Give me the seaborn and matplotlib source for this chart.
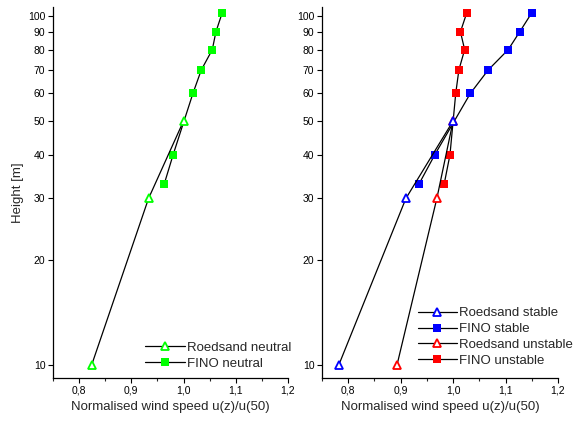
import matplotlib
matplotlib.use("Agg")
import matplotlib.pyplot as plt
import seaborn as sns
import numpy as np
from matplotlib.ticker import FixedLocator, NullLocator

sns.set_style("ticks")
plt.rcParams['font.family'] = ['Liberation Sans', 'DejaVu Sans']

# Data
h_roed = [10, 30, 50]
h_fino = [33, 40, 60, 70, 80, 90, 102]

roed_neutral = [0.824, 0.933, 1.000]
fino_neutral = [0.963, 0.980, 1.018, 1.034, 1.055, 1.062, 1.074]

roed_stable = [0.782, 0.910, 1.000]
fino_stable = [0.935, 0.965, 1.033, 1.067, 1.105, 1.127, 1.150]
roed_unstable = [0.893, 0.969, 1.000]
fino_unstable = [0.983, 0.994, 1.005, 1.011, 1.022, 1.014, 1.026]

y_ticks = [10, 20, 30, 40, 50, 60, 70, 80, 90, 100]
x_ticks = [0.8, 0.9, 1.0, 1.1, 1.2]
x_ticklabels = ['0,8', '0,9', '1,0', '1,1', '1,2']

GREEN = '#00ff00'
BLUE = '#0000ff'
RED = '#ff0000'

W, H = 581, 421
fig = plt.figure(figsize=(W/100, H/100), dpi=100)
ax1 = fig.add_axes([53/W, 1-378/H, 235/W, 371/H])
ax2 = fig.add_axes([322/W, 1-378/H, 236/W, 371/H])


def draw(ax, xs, ys, marker, col, label, z):
    filled = marker == 's'
    sns.lineplot(x=xs, y=ys, ax=ax, sort=False, estimator=None, color='black',
                 lw=0.9, marker=marker,
                 markersize=5.2 if filled else 6.0,
                 markerfacecolor=col if filled else 'white',
                 markeredgecolor=col, markeredgewidth=0 if filled else 1.3,
                 label=label, zorder=z)


draw(ax1, roed_neutral, h_roed, '^', GREEN, 'Roedsand neutral', 4)
draw(ax1, fino_neutral, h_fino, 's', GREEN, 'FINO neutral', 3)

draw(ax2, roed_stable, h_roed, '^', BLUE, 'Roedsand stable', 5)
draw(ax2, fino_stable, h_fino, 's', BLUE, 'FINO stable', 3)
draw(ax2, roed_unstable, h_roed, '^', RED, 'Roedsand unstable', 4)
draw(ax2, fino_unstable, h_fino, 's', RED, 'FINO unstable', 3)

for ax in (ax1, ax2):
    ax.set_yscale('log')
    ax.set_ylim(9.18, 106)
    ax.set_xlim(0.75, 1.2)
    ax.yaxis.set_major_locator(FixedLocator(y_ticks))
    ax.yaxis.set_minor_locator(NullLocator())
    ax.set_yticklabels([str(t) for t in y_ticks])
    ax.set_xticks(x_ticks)
    ax.set_xticklabels(x_ticklabels)
    ax.xaxis.set_minor_locator(FixedLocator([0.75, 0.85, 0.95, 1.05, 1.15]))
    ax.tick_params(axis='both', which='major', labelsize=7.5, length=3.5,
                   width=0.8, direction='out', pad=2, colors='black')
    ax.tick_params(axis='x', which='minor', length=2, width=0.8, direction='out')
    for s in ('top', 'right'):
        ax.spines[s].set_visible(False)
    for s in ('left', 'bottom'):
        ax.spines[s].set_linewidth(0.9)
        ax.spines[s].set_color('black')
    ax.set_xlabel('Normalised wind speed u(z)/u(50)', fontsize=9.5, labelpad=4)
    ax.set_ylabel('')

leg_kw = dict(loc='lower right', frameon=False, fontsize=9.5, handlelength=3.0,
              handletextpad=0.15, labelspacing=0.28, borderaxespad=0.0,
              borderpad=0.0, bbox_transform=fig.transFigure)
ax1.legend(bbox_to_anchor=(291/W, 1-370/H), **leg_kw)
ax2.legend(bbox_to_anchor=(573/W, 1-367/H), **leg_kw)

ax1.set_ylabel('Height [m]', fontsize=9.5, labelpad=3)

fig.savefig('out.png', dpi=100)
